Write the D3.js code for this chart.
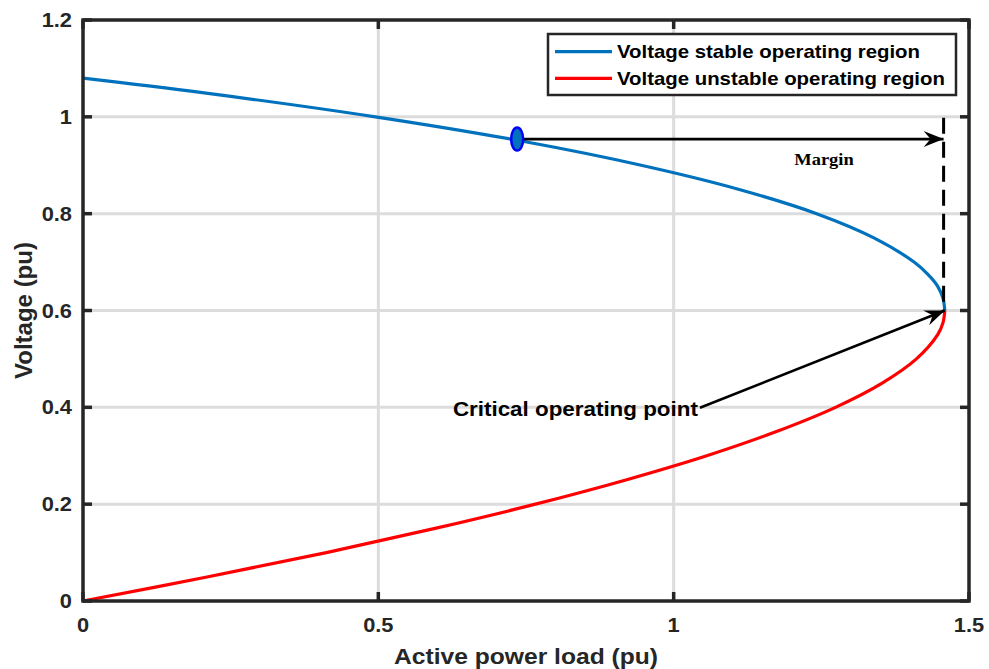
<!DOCTYPE html>
<html>
<head>
<meta charset="utf-8">
<script src="https://cdn.jsdelivr.net/npm/d3@7"></script>
<style>
  html, body { margin: 0; padding: 0; background: #fff; }
  svg { display: block; }
  text { font-family: "Liberation Sans", Arial, Helvetica, sans-serif; font-weight: bold; fill: #000; }
</style>
</head>
<body>
<svg id="chart" width="989" height="669"></svg>
<script>
// P-V (nose) curve of a load bus: upper (stable) and lower (unstable) branches
const stableP = [0, 0.202, 0.495, 0.742, 0.945, 1.111, 1.242, 1.339, 1.407, 1.430, 1.447, 1.456, 1.459];
const stableV = [1.080, 1.050, 1.000, 0.950, 0.900, 0.850, 0.800, 0.750, 0.700, 0.675, 0.650, 0.625, 0.600];
const unstableP = [0, 0.212, 0.412, 0.596, 0.766, 0.919, 1.056, 1.174, 1.274, 1.353, 1.411, 1.447, 1.456, 1.459];
const unstableV = [0, 0.050, 0.100, 0.150, 0.200, 0.250, 0.300, 0.350, 0.400, 0.450, 0.500, 0.550, 0.575, 0.600];

const xTicks = [0, 0.5, 1, 1.5];
const yTicks = [0, 0.2, 0.4, 0.6, 0.8, 1, 1.2];

const seriesNames = ["Voltage stable operating region", "Voltage unstable operating region"];
const seriesColors = ["#0072BD", "#FF0000"];

// operating point, nose point and annotation anchors (data units)
const operatingPoint = [0.735, 0.954];
const nosePoint = [1.459, 0.600];
const marginLineP = 1.457;
const marginLineTopV = 0.998;
const marginLabel = { text: "Margin", p: 1.2545, v: 0.901 };
const criticalLabel = { text: "Critical operating point", p: 1.041, v: 0.382, arrowFrom: [1.0445, 0.399] };

const svg = d3.select("#chart");
const axisColor = "#262626";
const stretch = 1.12;

const x = d3.scaleLinear().domain([0, 1.5]).range([83, 969]);
const y = d3.scaleLinear().domain([0, 1.2]).range([601, 20]);

function hText(g, str, px, py, size, anchor) {
  return g.append("text")
    .attr("transform", `translate(${px},${py}) scale(${stretch},1)`)
    .attr("text-anchor", anchor)
    .style("font-size", size + "px")
    .text(str);
}

// grid
const grid = svg.append("g");
grid.selectAll("line.gx").data(xTicks.slice(1, -1)).join("line")
  .attr("x1", d => x(d)).attr("x2", d => x(d))
  .attr("y1", y(0)).attr("y2", y(1.2))
  .attr("stroke", "#dcdcdc").attr("stroke-width", 3);
grid.selectAll("line.gy").data(yTicks.slice(1, -1)).join("line")
  .attr("y1", d => y(d)).attr("y2", d => y(d))
  .attr("x1", x(0)).attr("x2", x(1.5))
  .attr("stroke", "#dcdcdc").attr("stroke-width", 3);

// curves
const line = d3.line().x(d => x(d[0])).y(d => y(d[1])).curve(d3.curveCatmullRom.alpha(0.5));
const stable = stableP.map((p, i) => [p, stableV[i]]);
const unstable = unstableP.map((p, i) => [p, unstableV[i]]);
svg.append("path").datum(unstable).attr("d", line)
  .attr("fill", "none").attr("stroke", seriesColors[1]).attr("stroke-width", 3.2);
svg.append("path").datum(stable).attr("d", line)
  .attr("fill", "none").attr("stroke", seriesColors[0]).attr("stroke-width", 3.2);

// axes box with inward ticks on all sides
const ax = svg.append("g");
const tickLen = 9;
ax.selectAll("line.xb").data(xTicks).join("line")
  .attr("x1", d => x(d)).attr("x2", d => x(d))
  .attr("y1", y(0)).attr("y2", y(0) - tickLen)
  .attr("stroke", axisColor).attr("stroke-width", 3.5);
ax.selectAll("line.xt").data(xTicks).join("line")
  .attr("x1", d => x(d)).attr("x2", d => x(d))
  .attr("y1", y(1.2)).attr("y2", y(1.2) + tickLen)
  .attr("stroke", axisColor).attr("stroke-width", 3.5);
ax.selectAll("line.yl").data(yTicks).join("line")
  .attr("y1", d => y(d)).attr("y2", d => y(d))
  .attr("x1", x(0)).attr("x2", x(0) + tickLen)
  .attr("stroke", axisColor).attr("stroke-width", 3.5);
ax.selectAll("line.yr").data(yTicks).join("line")
  .attr("y1", d => y(d)).attr("y2", d => y(d))
  .attr("x1", x(1.5)).attr("x2", x(1.5) - tickLen)
  .attr("stroke", axisColor).attr("stroke-width", 3.5);
ax.append("rect")
  .attr("x", x(0)).attr("y", y(1.2))
  .attr("width", x(1.5) - x(0)).attr("height", y(0) - y(1.2))
  .attr("fill", "none").attr("stroke", axisColor).attr("stroke-width", 3.5);

// tick labels
const fmt = d => String(d);
xTicks.forEach(d => hText(svg, fmt(d), x(d), 632, 19.5, "middle").style("fill", axisColor));
yTicks.forEach(d => hText(svg, fmt(d), 72, y(d) + 7, 19.5, "end").style("fill", axisColor));

// axis titles
hText(svg, "Active power load (pu)", (x(0) + x(1.5)) / 2, 664, 22, "middle").style("fill", axisColor);
svg.append("text")
  .attr("transform", `translate(32,${(y(0) + y(1.2)) / 2}) rotate(-90)`)
  .attr("text-anchor", "middle")
  .style("font-size", "24px").style("fill", axisColor)
  .text("Voltage (pu)");

// arrowhead marker
const defs = svg.append("defs");
defs.append("marker")
  .attr("id", "head").attr("markerUnits", "userSpaceOnUse")
  .attr("viewBox", "-22 -10 24 20").attr("refX", 0).attr("refY", 0)
  .attr("markerWidth", 24).attr("markerHeight", 20).attr("orient", "auto")
  .append("path").attr("d", "M0,0 L-20,-8 L-13,0 L-20,8 Z").attr("fill", "#000");

// margin: dashed limit line and arrow
svg.append("line")
  .attr("x1", x(marginLineP)).attr("x2", x(marginLineP))
  .attr("y1", y(marginLineTopV)).attr("y2", y(nosePoint[1]))
  .attr("stroke", "#000").attr("stroke-width", 3).attr("stroke-dasharray", "16,8");
svg.append("line")
  .attr("x1", x(operatingPoint[0])).attr("y1", y(operatingPoint[1]))
  .attr("x2", x(marginLineP)).attr("y2", y(operatingPoint[1]))
  .attr("stroke", "#000").attr("stroke-width", 2.6).attr("marker-end", "url(#head)");
hText(svg, marginLabel.text, x(marginLabel.p), y(marginLabel.v), 16.5, "middle")
  .style("font-family", "'Liberation Serif', 'Times New Roman', serif");

// critical point arrow and label
svg.append("line")
  .attr("x1", x(criticalLabel.arrowFrom[0])).attr("y1", y(criticalLabel.arrowFrom[1]))
  .attr("x2", x(nosePoint[0])).attr("y2", y(nosePoint[1]))
  .attr("stroke", "#000").attr("stroke-width", 2.6).attr("marker-end", "url(#head)");
hText(svg, criticalLabel.text, x(criticalLabel.p), y(criticalLabel.v), 20, "end");

// operating point marker
svg.append("ellipse")
  .attr("cx", x(operatingPoint[0])).attr("cy", y(operatingPoint[1]))
  .attr("rx", 6).attr("ry", 11.5)
  .attr("fill", "#0072BD").attr("stroke", "#0000FF").attr("stroke-width", 2.5);

// legend
const lg = svg.append("g");
lg.append("rect").attr("x", 548).attr("y", 34).attr("width", 408).attr("height", 61)
  .attr("fill", "#fff").attr("stroke", axisColor).attr("stroke-width", 2.5);
seriesNames.forEach((name, i) => {
  const ly = 51.7 + i * 26.6;
  lg.append("line").attr("x1", 555).attr("x2", 612).attr("y1", ly).attr("y2", ly)
    .attr("stroke", seriesColors[i]).attr("stroke-width", 3.2);
  hText(lg, name, 617, ly + 6.5, 18.2, "start");
});
</script>
</body>
</html>
